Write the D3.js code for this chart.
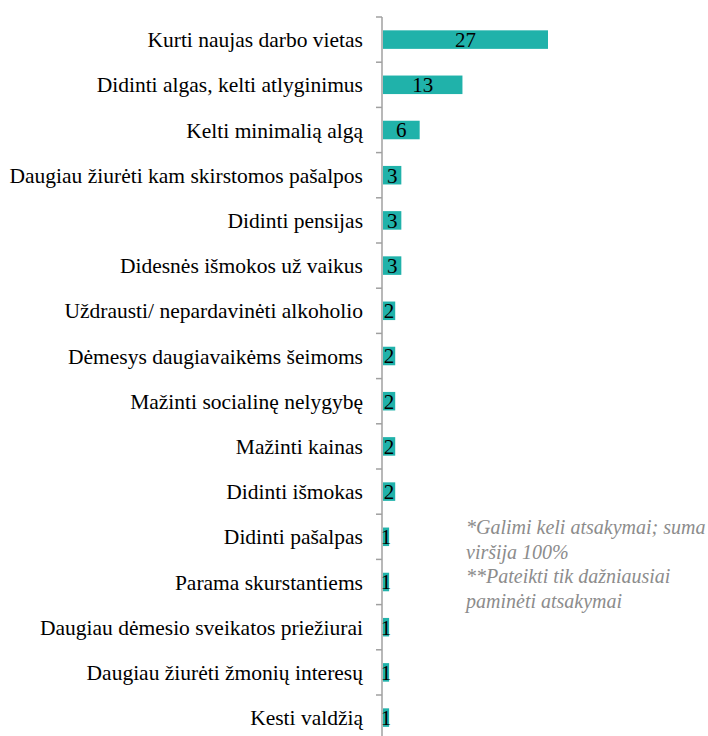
<!DOCTYPE html>
<html>
<head>
<meta charset="utf-8">
<script src="https://cdn.jsdelivr.net/npm/d3@7"></script>
<style>
	body { margin: 0; background: #fff; }
	svg { display: block; }
	text { font-family: 'Liberation Serif', 'Times New Roman', 'DejaVu Serif', serif; }
</style>
</head>
<body>
<script>
const categories = [
	'Kurti naujas darbo vietas',
	'Didinti algas, kelti atlyginimus',
	'Kelti minimalią algą',
	'Daugiau žiurėti kam skirstomos pašalpos',
	'Didinti pensijas',
	'Didesnės išmokos už vaikus',
	'Uždrausti/ nepardavinėti alkoholio',
	'Dėmesys daugiavaikėms šeimoms',
	'Mažinti socialinę nelygybę',
	'Mažinti kainas',
	'Didinti išmokas',
	'Didinti pašalpas',
	'Parama skurstantiems',
	'Daugiau dėmesio sveikatos priežiurai',
	'Daugiau žiurėti žmonių interesų',
	'Kesti valdžią'
]
const values = [27, 13, 6, 3, 3, 3, 2, 2, 2, 2, 2, 1, 1, 1, 1, 1]

const noteLines = [
	'*Galimi keli atsakymai; suma',
	'viršija 100%',
	'**Pateikti tik dažniausiai',
	'paminėti atsakymai'
]

const width = 708
const height = 736
const margin = { top: 17, left: 382 }
const step = 45.2
const innerHeight = step * categories.length

const svg = d3.select('body')
	.append('svg')
	.attr('width', width)
	.attr('height', height)

const g = svg.append('g')
	.attr('transform', `translate(${margin.left},${margin.top})`)

const xScale = d3.scaleLinear()
	.domain([0, 27])
	.range([0, 165])

const yScale = d3.scaleBand()
	.domain(categories)
	.range([0, innerHeight])
	.paddingInner(0.59)
	.paddingOuter(0.295)

// axis line + ticks between categories
g.append('line')
	.attr('x1', 0).attr('x2', 0)
	.attr('y1', 0).attr('y2', innerHeight)
	.attr('stroke', '#a0a0a0')
	.attr('stroke-width', 1.5)

g.selectAll('.tick')
	.data(d3.range(categories.length + 1))
	.enter()
	.append('line')
	.attr('class', 'tick')
	.attr('x1', -6).attr('x2', 0)
	.attr('y1', i => i * step)
	.attr('y2', i => i * step)
	.attr('stroke', '#a0a0a0')
	.attr('stroke-width', 1.5)

// category labels
g.selectAll('.label')
	.data(categories)
	.enter()
	.append('text')
	.attr('class', 'label')
	.attr('x', -19)
	.attr('y', d => yScale(d) + yScale.bandwidth() / 2)
	.attr('dy', '0.35em')
	.attr('text-anchor', 'end')
	.style('font-size', '21.5px')
	.attr('fill', '#000')
	.text(d => d)

// bars
g.selectAll('.bar')
	.data(values)
	.enter()
	.append('rect')
	.attr('class', 'bar')
	.attr('x', 1)
	.attr('y', (d, i) => yScale(categories[i]))
	.attr('width', d => xScale(d))
	.attr('height', yScale.bandwidth())
	.attr('fill', '#20b2aa')

// value labels
g.selectAll('.value')
	.data(values)
	.enter()
	.append('text')
	.attr('class', 'value')
	.attr('x', d => 1 + xScale(d) / 2)
	.attr('y', (d, i) => yScale(categories[i]) + yScale.bandwidth() / 2)
	.attr('dy', '0.35em')
	.attr('text-anchor', 'middle')
	.style('font-size', '21px')
	.attr('fill', '#000')
	.text(d => d)

// note
svg.append('text')
	.attr('x', 466)
	.attr('y', 534)
	.style('font-style', 'italic')
	.style('font-size', '20px')
	.attr('fill', '#8c8c8c')
	.selectAll('tspan')
	.data(noteLines)
	.enter()
	.append('tspan')
	.attr('x', 466)
	.attr('dy', (d, i) => i === 0 ? 0 : 24.5)
	.text(d => d)
</script>
</body>
</html>
